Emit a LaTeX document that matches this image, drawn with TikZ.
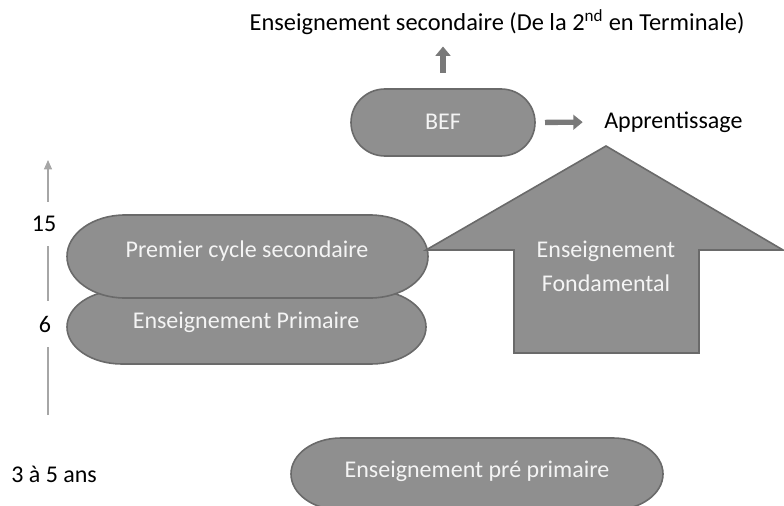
\documentclass[tikz,border=0pt]{standalone}
\usepackage{fontspec}
\setmainfont{Carlito}
\usetikzlibrary{arrows.meta}

\definecolor{boxgray}{HTML}{8F8F8F}
\definecolor{edgegray}{HTML}{6A6A6A}
\definecolor{axisgray}{HTML}{A6A6A6}
\definecolor{labelwhite}{HTML}{F4F4F4}

\tikzset{
  stagefill/.style={fill=boxgray, draw=edgegray, line width=1.2pt},
  stage/.style={text=labelwhite, inner sep=0pt, font=\fontsize{18}{22}\selectfont},
  plain/.style={inner sep=0pt, font=\fontsize{18}{22}\selectfont},
  age/.style={fill=white, inner xsep=2pt, inner ysep=11pt, font=\fontsize{18}{22}\selectfont},
  blockarrow/.style={draw=edgegray!90, line width=4pt, -{Triangle[width=11pt,length=7pt]}}
}

% terminator box: name, centre x, centre y, width, height, end radius
\newcommand{\stagebox}[6]{%
  \filldraw[stagefill] (#2-#4/2+#6,#3-#5/2) -- (#2+#4/2-#6,#3-#5/2)
    arc[start angle=-90, end angle=90, x radius=#6, y radius=#5/2]
    -- (#2-#4/2+#6,#3+#5/2)
    arc[start angle=90, end angle=270, x radius=#6, y radius=#5/2] -- cycle;
  \coordinate (#1) at (#2,#3);
  \coordinate (#1-e) at (#2+#4/2,#3);
  \coordinate (#1-n) at (#2,#3-#5/2);
}

\begin{document}
\begin{tikzpicture}[x=0.75pt, y=-0.75pt]
  \useasboundingbox (0,0) rectangle (784,506);

  % age axis
  \coordinate (ax0) at (48,415);
  \coordinate (ax1) at (48,160);
  \draw[axisgray, line width=0.8pt, -{Triangle[width=6pt,length=7pt]}] (ax0) -- (ax1);
  \node[age] (a15) at (44,224) {15};
  \node[age] (a6) at (45,324) {6};
  \node[plain, anchor=west] (a3) at (11,474) {3 à 5 ans};

  % stages
  \stagebox{prim}{246.5}{327}{359}{74}{55}
  \node[stage] (primtxt) at (246,322) {Enseignement Primaire};
  \stagebox{cycle}{247.5}{256.5}{361}{83}{58}
  \node[stage] (cycletxt) at (247,251) {Premier cycle secondaire};
  \stagebox{prepri}{477}{474}{372}{72}{50}
  \node[stage] (prepritxt) at (477,471) {Enseignement pré primaire};
  \stagebox{bef}{443}{122.5}{184}{67}{34}
  \node[stage] (beftxt) at (443,122) {BEF};

  % fondamental house arrow
  \filldraw[stagefill]
    (606,146) -- (783,250) -- (699,250) -- (699,353) -- (514,353) -- (514,250) -- (426,250) -- cycle;
  \node[stage, align=center, font=\fontsize{18}{25.5}\selectfont] (fond) at (606,266)
    {Enseignement\\Fondamental};

  % outcomes
  \node[plain, font=\fontsize{18.3}{22}\selectfont] (sec) at (497,22) {Enseignement secondaire (De la 2\textsuperscript{nd} en Terminale)};
  \node[plain, anchor=west] (app) at (604,122) {Apprentissage};
  \draw[blockarrow, shorten <=12pt, shorten >=9pt] (bef-n) -- (bef-n |- sec.south);
  \draw[blockarrow, shorten <=7.5pt, shorten >=16pt] (bef-e) -- (app.west);
\end{tikzpicture}
\end{document}
